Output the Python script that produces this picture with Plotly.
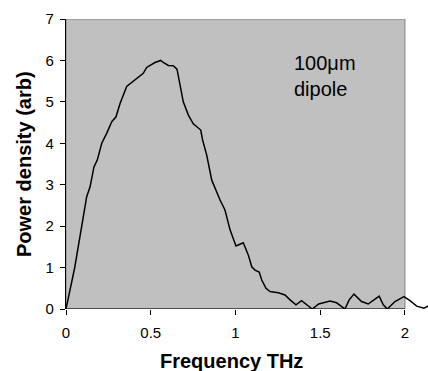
import plotly.graph_objects as go

# Data
frequency_thz = [0, 0.051, 0.099, 0.122, 0.142, 0.165, 0.185, 0.211, 0.24, 0.27, 0.295, 0.319,
                 0.358, 0.407, 0.456, 0.476, 0.525, 0.559, 0.574, 0.604, 0.633, 0.655, 0.672,
                 0.692, 0.722, 0.751, 0.795, 0.806, 0.83, 0.86, 0.909, 0.938, 0.968, 0.987,
                 1.003, 1.046, 1.076, 1.096, 1.115, 1.14, 1.155, 1.18, 1.204, 1.253, 1.292,
                 1.322, 1.357, 1.39, 1.415, 1.453, 1.491, 1.558, 1.597, 1.646, 1.671, 1.699,
                 1.744, 1.783, 1.817, 1.848, 1.872, 1.896, 1.941, 1.994, 2.03, 2.069, 2.112, 2.14]
power_density = [0, 0.99, 2.15, 2.71, 2.95, 3.43, 3.60, 4.0, 4.24, 4.52, 4.64, 4.96,
                 5.37, 5.53, 5.69, 5.83, 5.95, 6.0, 5.95, 5.88, 5.87, 5.79, 5.40,
                 5.0, 4.68, 4.47, 4.32, 4.08, 3.72, 3.11, 2.63, 2.39, 1.91, 1.67,
                 1.52, 1.60, 1.30, 1.02, 0.94, 0.89, 0.70, 0.50, 0.42, 0.39, 0.34,
                 0.22, 0.10, 0.20, 0.12, 0.0, 0.12, 0.19, 0.15, 0.0, 0.22, 0.36,
                 0.18, 0.12, 0.22, 0.31, 0.10, 0.0, 0.18, 0.30, 0.20, 0.07, 0.02, 0.08]

x_tick_vals = [0, 0.5, 1, 1.5, 2]
x_tick_text = ["0", "0.5", "1", "1.5", "2"]
y_tick_vals = [0, 1, 2, 3, 4, 5, 6, 7]
x_axis_max = 2
y_axis_max = 7

font_family = "Liberation Sans, Arial, sans-serif"

fig = go.Figure()
fig.add_trace(go.Scatter(x=frequency_thz, y=power_density, mode="lines",
                         line=dict(color="black", width=1.5), showlegend=False,
                         hoverinfo="skip"))

# plot area (gray) limited to the axis range, line runs past it as in the original
fig.add_shape(type="rect", xref="x", yref="y", x0=0, x1=x_axis_max, y0=0, y1=y_axis_max,
              fillcolor="#C0C0C0", line=dict(color="#808080", width=1), layer="below")
fig.add_shape(type="line", xref="x", yref="y", x0=0, x1=x_axis_max, y0=0, y1=0,
              line=dict(color="black", width=1.2), layer="below")

fig.add_annotation(text="100\u03bcm<br>dipole", xref="x", yref="y", x=1.333, y=5.62,
                   xanchor="left", yanchor="middle", align="left", showarrow=False,
                   font=dict(family=font_family, size=20, color="black"))
fig.add_annotation(text="<b>Frequency THz</b>", xref="paper", yref="paper",
                   x=(231 - 66) / 362, y=-(361 - 309) / 290, xanchor="center", yanchor="middle",
                   showarrow=False, font=dict(family=font_family, size=20, color="black"))
fig.add_annotation(text="<b>Power density (arb)</b>", xref="paper", yref="paper",
                   x=-(66 - 24) / 362, y=0.5, xanchor="center", yanchor="middle",
                   textangle=-90, showarrow=False,
                   font=dict(family=font_family, size=20, color="black"))

fig.update_xaxes(range=[0, 2.136], tickvals=x_tick_vals, ticktext=x_tick_text,
                 ticks="outside", ticklen=5, tickcolor="black", tickwidth=1,
                 ticklabelstandoff=5,
                 showline=False, showgrid=False, zeroline=False,
                 tickfont=dict(family=font_family, size=15, color="black"))
fig.update_yaxes(range=[0, y_axis_max], tickvals=y_tick_vals,
                 ticks="outside", ticklen=5, tickcolor="black", tickwidth=1,
                 ticklabelstandoff=3,
                 showline=True, linecolor="black", linewidth=1.2,
                 showgrid=False, zeroline=False,
                 tickfont=dict(family=font_family, size=15, color="black"))

fig.update_layout(width=428, height=371, margin=dict(l=66, r=0, t=19, b=62),
                  paper_bgcolor="white", plot_bgcolor="white")

fig.write_html("out.html")
